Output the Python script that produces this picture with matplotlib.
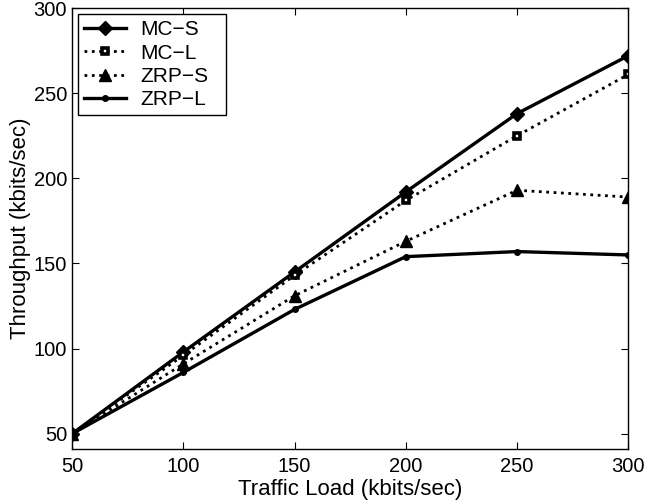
import matplotlib
matplotlib.use("Agg")
import matplotlib.pyplot as plt

plt.rcParams['font.family'] = ['Liberation Sans', 'DejaVu Sans']

load = [50, 100, 150, 200, 250, 300]
mc_s = [50, 98, 145, 192, 238, 272]
mc_l = [50, 96, 143, 187, 225, 261]
zrp_s = [50, 91, 131, 163, 193, 189]
zrp_l = [50, 86, 123, 154, 157, 155]

fig = plt.figure(figsize=(6.49, 5.04), dpi=100)
ax = fig.add_axes([0.111, 0.109, 0.857, 0.875])

ax.plot(load, mc_s, color='black', linestyle='-', linewidth=2.4, marker='D', markersize=7, label="MC\u2212S")
ax.plot(load, mc_l, color='black', linestyle=':', linewidth=2, marker='s', markersize=5,
        markerfacecolor='white', markeredgewidth=2.6, label="MC\u2212L")
ax.plot(load, zrp_s, color='black', linestyle=':', linewidth=2, marker='^', markersize=9, label="ZRP\u2212S")
ax.plot(load, zrp_l, color='black', linestyle='-', linewidth=2.4, marker='o', markersize=4, label="ZRP\u2212L")

ax.set_xlim(50, 300)
ax.set_ylim(41, 300)
ax.set_xticks([50, 100, 150, 200, 250, 300])
ax.set_yticks([50, 100, 150, 200, 250, 300])
ax.tick_params(direction='in', top=True, right=True, labelsize=14.5, length=5)
ax.tick_params(axis='x', pad=6)
ax.tick_params(axis='y', pad=3.5)
for s in ax.spines.values():
    s.set_linewidth(1)

ax.set_xlabel("Traffic Load (kbits/sec)", fontsize=16, labelpad=2)
ax.set_ylabel("Throughput (kbits/sec)", fontsize=16, labelpad=2)

leg = ax.legend(loc='upper left', bbox_to_anchor=(0.0108, 0.986, 0.266, 0.0), mode='expand',
                fontsize=15, fancybox=False, framealpha=1,
                edgecolor='black', borderaxespad=0, handlelength=2.0, labelspacing=0.2,
                borderpad=0.3, handletextpad=0.7)
leg.get_frame().set_linewidth(1)

plt.savefig("out.png", dpi=100)
